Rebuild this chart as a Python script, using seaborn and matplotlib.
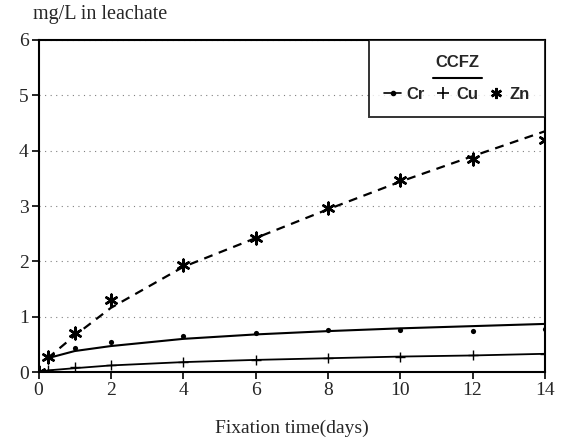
import seaborn as sns
import matplotlib.pyplot as plt
import pandas as pd
from matplotlib.lines import Line2D

# Leachate concentration vs fixation time (CCFZ)

# measured points
days = [0, 0.25, 1, 2, 4, 6, 8, 10, 12, 14]
zn = [0.0, 0.27, 0.70, 1.30, 1.93, 2.42, 2.97, 3.47, 3.85, 4.20]
cr = [0.0, 0.27, 0.43, 0.55, 0.65, 0.70, 0.76, 0.76, 0.75, 0.77]
cu = [0.0, 0.03, 0.10, 0.13, 0.18, 0.22, 0.25, 0.27, 0.30, 0.33]

# fitted curves
fit_days = [0.25, 1, 2, 4, 6, 8, 10, 12, 14]
zn_fit = [0.25, 0.66, 1.16, 1.90, 2.42, 2.94, 3.44, 3.90, 4.35]
cr_fit = [0.25, 0.38, 0.47, 0.60, 0.68, 0.74, 0.79, 0.83, 0.87]
cu_fit = [0.03, 0.07, 0.12, 0.18, 0.22, 0.25, 0.28, 0.30, 0.33]

pts = pd.DataFrame({'day': days, 'Cr': cr, 'Cu': cu, 'Zn': zn})
fits = pd.DataFrame({'day': fit_days, 'Cr': cr_fit, 'Cu': cu_fit, 'Zn': zn_fit})

sns.set_style('ticks')
plt.rcParams['font.family'] = ['Liberation Serif', 'DejaVu Serif']

fig = plt.figure(figsize=(5.67, 4.44), dpi=100)
ax = fig.add_axes([0.068, 0.162, 0.893, 0.748])

# fitted curves
sns.lineplot(x='day', y='Zn', data=fits, ax=ax, color='black', lw=1.6,
             linestyle=(0, (4, 3)))
sns.lineplot(x='day', y='Cr', data=fits, ax=ax, color='black', lw=1.5)
sns.lineplot(x='day', y='Cu', data=fits, ax=ax, color='black', lw=1.3)

# data points
sns.scatterplot(x='day', y='Zn', data=pts, ax=ax, marker=(6, 2, 0), s=70,
                color='black', linewidth=1.8, zorder=5)
sns.scatterplot(x='day', y='Cr', data=pts, ax=ax, marker='o', s=14,
                color='black', linewidth=0, zorder=5)
sns.scatterplot(x='day', y='Cu', data=pts, ax=ax, marker='+', s=60,
                color='black', linewidth=1.0, zorder=5)

ax.set_xlim(0, 14)
ax.set_ylim(0, 6)
ax.set_xticks(range(0, 15, 2))
ax.set_yticks(range(0, 7))
ax.tick_params(labelsize=14, length=5, width=1.2, color='black', pad=2)
for s in ax.spines.values():
    s.set_linewidth(1.5)
    s.set_color('black')

ax.yaxis.grid(True, color='gray', linestyle=(0, (1, 4)), linewidth=0.8)
ax.set_xlabel('Fixation time(days)', fontsize=14, labelpad=15)
ax.set_ylabel('')
fig.text(0.058, 0.945, 'mg/L in leachate', fontsize=14.5, ha='left', va='bottom')

# legend
handles = [
    Line2D([], [], color='black', marker='o', markersize=3, lw=1.2),
    Line2D([], [], color='black', marker='+', markersize=9, lw=0, mew=1.2),
    Line2D([], [], color='black', marker=(6, 2, 0), markersize=8, lw=0, mew=1.8),
]
leg = ax.legend(handles, ['Cr', 'Cu', 'Zn'], loc='upper right', ncol=3,
                title='CCFZ', handlelength=1.0, handletextpad=0.3,
                columnspacing=0.6, borderaxespad=0, fancybox=False,
                frameon=True, prop={'family': 'Liberation Sans',
                                    'weight': 'bold', 'size': 12},
                borderpad=0.9, labelspacing=1.0)
leg.get_title().set_fontfamily('Liberation Sans')
leg.get_title().set_fontweight('bold')
leg.get_title().set_fontsize(12)
leg.get_frame().set_edgecolor('black')
leg.get_frame().set_linewidth(1.4)
fig.add_artist(Line2D([0.764, 0.850], [0.824, 0.824], color='black', lw=1.5))

sns.despine(ax=ax, top=False, right=False)
fig.savefig('out.png', dpi=100)
